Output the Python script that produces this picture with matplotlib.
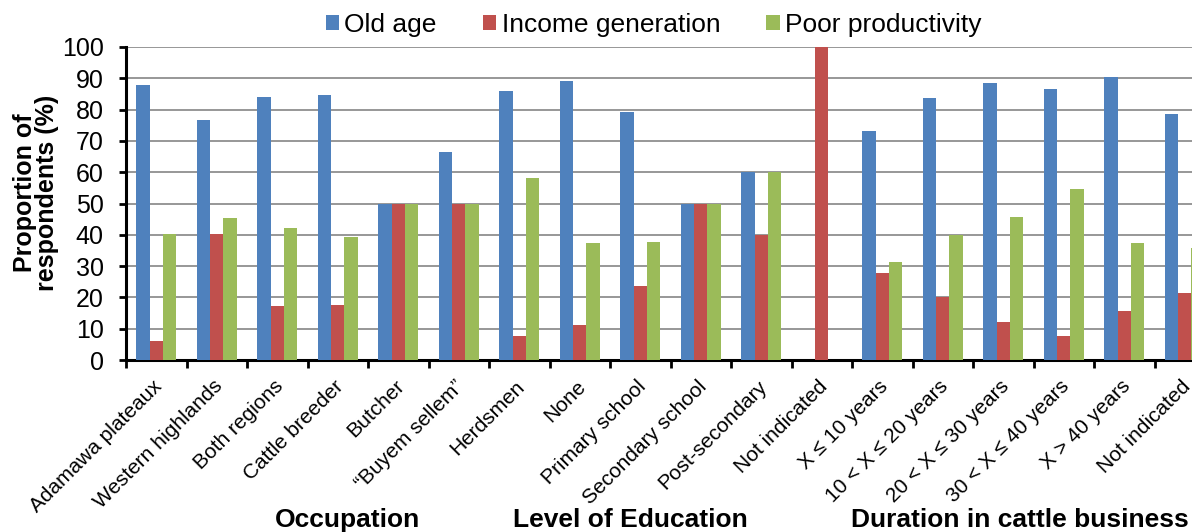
import numpy as np
import matplotlib.pyplot as plt
import matplotlib.transforms as mtransforms
from matplotlib.patches import Patch

plt.rcParams['font.family'] = ['Liberation Sans', 'DejaVu Sans']

# categories (x axis)
categories = ['Adamawa plateaux', 'Western highlands', 'Both regions', 'Cattle breeder',
              'Butcher', '\u201cBuyem sellem\u201d', 'Herdsmen', 'None', 'Primary school',
              'Secondary school', 'Post-secondary', 'Not indicated', 'X \u2264 10 years',
              '10 < X \u2264 20 years', '20 < X \u2264 30 years', '30 < X \u2264 40 years',
              'X > 40 years', 'Not indicated']

# proportions of respondents (%)
old_age = [87.7, 76.8, 84.1, 84.7, 50, 66.5, 86.0, 89.2, 79.1, 50, 60, 0,
           73.1, 83.8, 88.6, 86.5, 90.4, 78.5]
income_generation = [6.1, 40.2, 17.1, 17.5, 50, 50, 7.8, 11.3, 23.5, 50, 40, 100,
                     27.9, 20.0, 12.2, 7.8, 15.6, 21.3]
poor_productivity = [40.3, 45.4, 42.1, 39.4, 50, 50, 58.1, 37.3, 37.6, 50, 60, 0,
                     31.3, 40.0, 45.8, 54.7, 37.5, 35.7]

series_names = ['Old age', 'Income generation', 'Poor productivity']
colors = ['#4F81BD', '#C0504D', '#9BBB59']

group_labels = ['Occupation', 'Level of Education', 'Duration in cattle business']

W, H = 1192, 532
fig = plt.figure(figsize=(W / 100, H / 100), dpi=100)
# axes runs past the right edge, like the cropped original
ax = fig.add_axes([126 / W, 1 - 360 / H, (W - 126) / W, (360 - 47) / H])

x = np.arange(len(categories))
bw = 0.223
handles = []
for i, (vals, c, name) in enumerate(zip([old_age, income_generation, poor_productivity],
                                        colors, series_names)):
    ax.bar(x + (i - 1) * bw, vals, width=bw, color=c, zorder=3)
    handles.append(Patch(facecolor=c, label=name))

ax.set_yticks(range(0, 101, 10))
ax.yaxis.grid(True, color='#8f8f8f', linewidth=1.3, zorder=0)
ax.set_axisbelow(True)

for s in ['top', 'right']:
    ax.spines[s].set_visible(False)
for s in ['left', 'bottom']:
    ax.spines[s].set_linewidth(2.2)

ax.tick_params(axis='y', labelsize=18, length=5, width=2, pad=11)
ax.set_xticks(x)
ax.set_xticklabels(categories, rotation=45, ha='right', rotation_mode='anchor', fontsize=15)
ax.tick_params(axis='x', which='major', length=0, pad=12)
ax.set_xticks(np.arange(-0.5, len(categories), 1.0), minor=True)
ax.tick_params(axis='x', which='minor', length=6, width=2)

# nudge the slanted labels a touch to the left
shift = mtransforms.ScaledTranslation(-4 / 100, 0, fig.dpi_scale_trans)
for lbl in ax.get_xticklabels():
    lbl.set_transform(lbl.get_transform() + shift)

# limits last, so the ticks do not widen them
ax.set_ylim(0, 100)
ax.set_xlim(-0.5, -0.5 + (W - 126) / 60.5)

fig.text(36 / W, 1 - 193 / H, 'Proportion of\nrespondents (%)', rotation=90,
         ha='center', va='center', fontsize=18, fontweight='bold', linespacing=0.9)

for lbl, cx in zip(group_labels, [347, 630, 1020]):
    fig.text(cx / W, 1 - 527 / H, lbl, ha='center', va='baseline',
             fontsize=19, fontweight='bold')

fig.legend(handles=handles, loc='center left', bbox_to_anchor=(326 / W, 1 - 25 / H),
           ncol=3, frameon=False, fontsize=19, handlelength=0.5, handleheight=0.5,
           handletextpad=0.2, columnspacing=1.75, borderpad=0, borderaxespad=0)

fig.savefig('out.png', dpi=100)
